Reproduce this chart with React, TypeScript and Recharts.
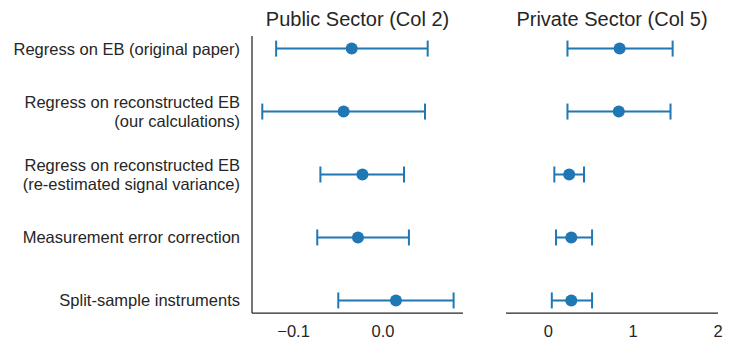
import React from "react";
import {
  ScatterChart,
  Scatter,
  XAxis,
  YAxis,
  ErrorBar,
} from "recharts";

const specLabels = [
  ["Regress on EB (original paper)"],
  ["Regress on reconstructed EB", "(our calculations)"],
  ["Regress on reconstructed EB", "(re-estimated signal variance)"],
  ["Measurement error correction"],
  ["Split-sample instruments"],
];

const publicEst = [-0.035, -0.044, -0.023, -0.028, 0.0145];
const publicLo = [-0.1195, -0.135, -0.07, -0.0735, -0.05];
const publicHi = [0.05, 0.047, 0.0235, 0.029, 0.079];

const privateEst = [0.84, 0.83, 0.245, 0.27, 0.27];
const privateLo = [0.225, 0.225, 0.07, 0.09, 0.04];
const privateHi = [1.465, 1.44, 0.42, 0.515, 0.515];

const publicTicks = [-0.1, 0.0];
const privateTicks = [0, 1, 2];

const BLUE = "#1f77b4";
const SPINE = "#262626";
const FONT = "'Liberation Sans', Arial, sans-serif";

const buildRows = (est: number[], lo: number[], hi: number[]) =>
  est.map((v, i) => ({
    row: i,
    est: v,
    err: [v - lo[i], hi[i] - v],
  }));

const publicData = buildRows(publicEst, publicLo, publicHi);
const privateData = buildRows(privateEst, privateLo, privateHi);

const Dot = (props: any) => (
  <circle cx={props.cx} cy={props.cy} r={6} fill={BLUE} />
);

// multi-line category labels for the shared y axis
const SpecTick = (props: any) => {
  const { x, y, payload } = props;
  const lines = specLabels[payload.value] || [];
  const lh = 19;
  const start = y - ((lines.length - 1) * lh) / 2;
  return (
    <text
      x={x}
      y={start}
      textAnchor="end"
      fontSize={16.5}
      fontFamily={FONT}
      fill="#262626"
    >
      {lines.map((l, i) => (
        <tspan key={i} x={x} y={start + i * lh} dy="0.36em">
          {l}
        </tspan>
      ))}
    </text>
  );
};

const fmtPublic = (v: number) =>
  v < 0 ? "\u2212" + Math.abs(v).toFixed(1) : v.toFixed(1);

const tickStyle = { fontSize: 16.5, fontFamily: FONT, fill: "#262626" };
const axisLine = { stroke: SPINE, strokeWidth: 1.25 };

const titleStyle = (left: number, width: number): React.CSSProperties => ({
  position: "absolute",
  left: left - 40,
  top: 7,
  width: width + 80,
  textAlign: "center",
  fontFamily: FONT,
  fontSize: 20,
  color: "#262626",
  lineHeight: "24px",
});

export default function App() {
  return (
    <div
      style={{
        position: "absolute",
        left: 0,
        top: 0,
        width: 734,
        height: 353,
        background: "#fff",
      }}
    >
      <div style={titleStyle(252, 211)}>Public Sector (Col 2)</div>
      <div style={titleStyle(506, 212)}>Private Sector (Col 5)</div>

      <div style={{ position: "absolute", left: 0, top: 0 }}>
        <ScatterChart
          width={470}
          height={353}
          margin={{ top: 36, right: 7, bottom: 10, left: 0 }}
        >
          <XAxis
            type="number"
            dataKey="est"
            domain={[-0.1465, 0.0895]}
            ticks={publicTicks}
            tickFormatter={fmtPublic}
            allowDataOverflow
            height={30}
            tickSize={0}
            tickMargin={12}
            axisLine={axisLine}
            tick={tickStyle}
          />
          <YAxis
            type="number"
            dataKey="row"
            domain={[-0.2, 4.2]}
            ticks={[0, 1, 2, 3, 4]}
            reversed
            width={252}
            tickSize={0}
            tickMargin={12}
            axisLine={axisLine}
            tick={<SpecTick />}
          />
          <Scatter data={publicData} shape={<Dot />} isAnimationActive={false}>
            <ErrorBar
              dataKey="err"
              direction="x"
              width={8}
              stroke={BLUE}
              strokeWidth={2}
            />
          </Scatter>
        </ScatterChart>
      </div>

      <div style={{ position: "absolute", left: 480, top: 0 }}>
        <ScatterChart
          width={254}
          height={353}
          margin={{ top: 36, right: 16, bottom: 10, left: 26 }}
        >
          <XAxis
            type="number"
            dataKey="est"
            domain={[-0.5, 2]}
            ticks={privateTicks}
            allowDataOverflow
            height={30}
            tickSize={0}
            tickMargin={12}
            axisLine={axisLine}
            tick={tickStyle}
          />
          <YAxis
            type="number"
            dataKey="row"
            domain={[-0.2, 4.2]}
            reversed
            width={0}
            tick={false}
            tickSize={0}
            axisLine={axisLine}
          />
          <Scatter data={privateData} shape={<Dot />} isAnimationActive={false}>
            <ErrorBar
              dataKey="err"
              direction="x"
              width={8}
              stroke={BLUE}
              strokeWidth={2}
            />
          </Scatter>
        </ScatterChart>
      </div>
    </div>
  );
}
